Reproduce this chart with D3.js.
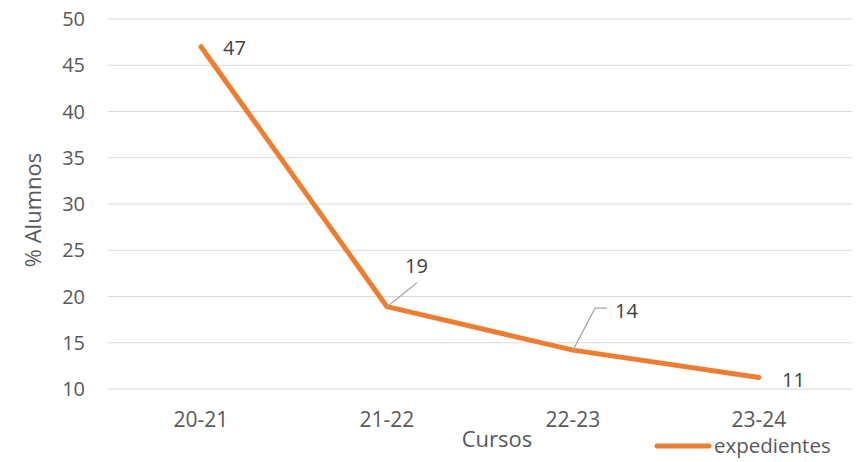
<!DOCTYPE html>
<html>
<head>
<meta charset="utf-8">
<script src="https://cdn.jsdelivr.net/npm/d3@7"></script>
<style>
  body { margin: 0; background: #fff; }
  text { font-family: "Open Sans", sans-serif; fill: #595959; }
</style>
</head>
<body>
<div id="chart"></div>
<script>
// chart data
const cursos = ["20-21", "21-22", "22-23", "23-24"];
const expedientes = [47, 18.9, 14.2, 11.25];
const etiquetas = ["47", "19", "14", "11"];
const yTicks = [10, 15, 20, 25, 30, 35, 40, 45, 50];

const width = 857, height = 462;
const margin = { top: 19, right: 5, bottom: 73, left: 108 };

const svg = d3.select("#chart")
    .append("svg")
    .attr("width", width)
    .attr("height", height);

const x = d3.scalePoint()
    .domain(cursos)
    .range([margin.left, width - margin.right])
    .padding(0.5);

const y = d3.scaleLinear()
    .domain([10, 50])
    .range([height - margin.bottom, margin.top]);

// gridlines
svg.append("g")
    .selectAll("line")
    .data(yTicks)
    .join("line")
    .attr("x1", margin.left)
    .attr("x2", width - margin.right)
    .attr("y1", d => y(d))
    .attr("y2", d => y(d))
    .attr("stroke", "#d9d9d9")
    .attr("stroke-width", 1);

// y tick labels
svg.append("g")
    .selectAll("text")
    .data(yTicks)
    .join("text")
    .attr("x", 85)
    .attr("y", d => y(d))
    .attr("dy", "0.35em")
    .attr("text-anchor", "end")
    .style("font-size", "20px")
    .text(d => d);

// x tick labels
svg.append("g")
    .selectAll("text")
    .data(cursos)
    .join("text")
    .attr("x", d => x(d))
    .attr("y", 427)
    .attr("text-anchor", "middle")
    .style("font-size", "21px")
    .text(d => d);

// axis titles
svg.append("text")
    .attr("transform", "translate(41,210) rotate(-90)")
    .attr("text-anchor", "middle")
    .style("font-size", "22px")
    .text("% Alumnos");

svg.append("text")
    .attr("x", 497)
    .attr("y", 447)
    .attr("text-anchor", "middle")
    .style("font-size", "22px")
    .text("Cursos");

// line
const line = d3.line()
    .x((d, i) => x(cursos[i]))
    .y(d => y(d));

svg.append("path")
    .datum(expedientes)
    .attr("d", line)
    .attr("fill", "none")
    .attr("stroke", "#ED7D31")
    .attr("stroke-width", 5)
    .attr("stroke-linejoin", "round")
    .attr("stroke-linecap", "round");

// data labels (offsets relative to each point)
const labelOffsets = [
    { dx: 22, dy: 8 },
    { dx: 18, dy: -34 },
    { dx: 42, dy: -32 },
    { dx: 23, dy: 10 }
];
// leader lines for labels 19 and 14
const leaders = [
    null,
    [[0, 0], [30, -24]],
    [[0, 0], [22, -42], [34, -42]],
    null
];

svg.append("g")
    .selectAll("path")
    .data(expedientes.map((v, i) => ({ v, i })).filter(d => leaders[d.i]))
    .join("path")
    .attr("d", d => d3.line()(leaders[d.i].map(p => [x(cursos[d.i]) + p[0], y(d.v) + p[1]])))
    .attr("fill", "none")
    .attr("stroke", "#a6a6a6")
    .attr("stroke-width", 1.2);

svg.append("g")
    .selectAll("text")
    .data(expedientes)
    .join("text")
    .attr("x", (d, i) => x(cursos[i]) + labelOffsets[i].dx)
    .attr("y", (d, i) => y(d) + labelOffsets[i].dy)
    .style("font-size", "20px")
    .style("fill", "#404040")
    .text((d, i) => etiquetas[i]);

// legend
const legend = svg.append("g");
legend.append("line")
    .attr("x1", 657).attr("x2", 709)
    .attr("y1", 446).attr("y2", 446)
    .attr("stroke", "#ED7D31")
    .attr("stroke-width", 5)
    .attr("stroke-linecap", "round");
legend.append("text")
    .attr("x", 714)
    .attr("y", 453)
    .style("font-size", "20.5px")
    .text("expedientes");
</script>
</body>
</html>
